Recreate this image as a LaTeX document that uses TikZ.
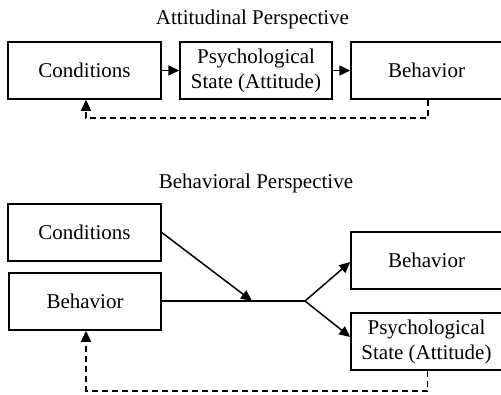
\documentclass[tikz,border=0pt]{standalone}
\usepackage{fontspec}
\setmainfont{Liberation Serif}
\usetikzlibrary{arrows.meta}
\begin{document}
\begin{tikzpicture}[x=1pt,y=-1pt,
 box/.style={draw, line width=1.5pt, minimum height=57pt, inner sep=0pt, align=center, font=\fontsize{21}{25}\selectfont},
 ttl/.style={anchor=base, inner sep=0pt, font=\fontsize{21}{25}\selectfont},
 arr/.style={line width=1.5pt, -{Triangle[length=11pt,width=10pt]}},
 fb/.style={arr, dash pattern=on 6pt off 4pt}]
\useasboundingbox (0,0) rectangle (501,394);
% Attitudinal perspective
\node[ttl] (t1) at (252.5,24) {Attitudinal Perspective};
\node[box, minimum width=153pt] (c1) at (84.5,70.5) {Conditions};
\node[box, minimum width=152pt] (p1) at (256,70.5) {Psychological\\State (Attitude)};
\node[box, minimum width=151pt] (b1) at (426.5,70.5) {Behavior};
\draw[arr] (c1) -- (p1);
\draw[arr] (p1) -- (b1);
\draw[fb] ([xshift=1.5pt]b1.south) -- ++(0,18) -| ([xshift=1.5pt]c1.south);
% Behavioral perspective
\node[ttl] (t2) at (256,188) {Behavioral Perspective};
\node[box, minimum width=153pt] (c2) at (84.5,232.5) {Conditions};
\node[box, minimum width=152pt] (b2) at (85,301.5) {Behavior};
\node[box, minimum width=151pt] (b3) at (426.5,260.5) {Behavior};
\node[box, minimum width=151pt] (p2) at (426.5,341.5) {Psychological\\State (Attitude)};
\coordinate (m) at (252,301);
\coordinate (j) at (305,301);
\draw[arr] (c2.east) -- (m);
\draw[line width=1.5pt] (b2.east |- j) -- (j);
\draw[arr] (j) -- ([yshift=-1.5pt]b3.west);
\draw[arr] (j) -- ([yshift=4.5pt]p2.west);
\draw[fb] ([xshift=1pt]p2.south) -- ++(0,20) -| ([xshift=1pt]b2.south);
\end{tikzpicture}
\end{document}
